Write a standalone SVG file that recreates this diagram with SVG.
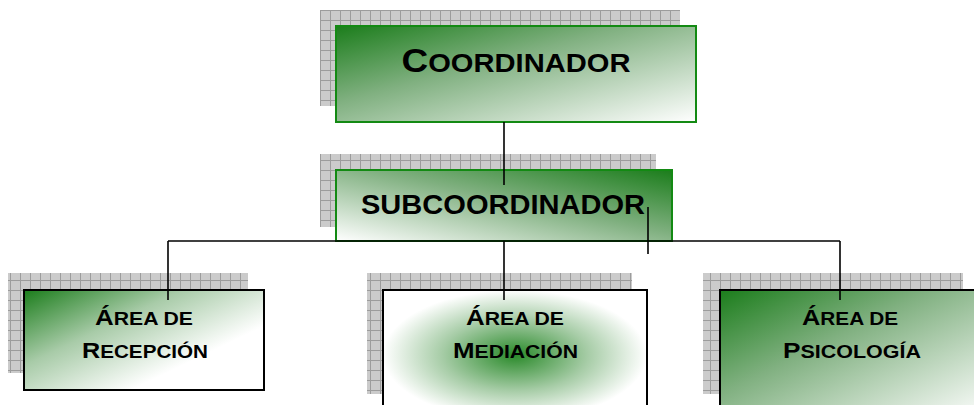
<svg xmlns="http://www.w3.org/2000/svg" width="974" height="405" viewBox="0 0 974 405">
<defs>
<pattern id="grid" patternUnits="userSpaceOnUse" width="10" height="10">
<rect width="10" height="10" fill="#cbcbcb"/>
<path d="M0 0.5H10M0.5 0V10" stroke="#9c9c9c" stroke-width="1" fill="none"/>
</pattern>
<linearGradient id="gTL" x1="0" y1="0" x2="1" y2="1">
<stop offset="0" stop-color="#1b7d1b"/>
<stop offset="0.4" stop-color="#80b080"/>
<stop offset="1" stop-color="#ffffff"/>
</linearGradient>
<linearGradient id="gTR" x1="1" y1="0" x2="0" y2="1">
<stop offset="0" stop-color="#1b7d1b"/>
<stop offset="0.45" stop-color="#80b080"/>
<stop offset="1" stop-color="#ffffff"/>
</linearGradient>
<linearGradient id="gLeft" x1="0" y1="0" x2="0.75" y2="0.65">
<stop offset="0" stop-color="#1b7d1b"/>
<stop offset="0.5" stop-color="#a8cba8"/>
<stop offset="1" stop-color="#ffffff"/>
</linearGradient>
<radialGradient id="gMid" cx="0.5" cy="0.5" r="0.5">
<stop offset="0" stop-color="#2a8a2a"/>
<stop offset="0.55" stop-color="#a6cca6"/>
<stop offset="1" stop-color="#ffffff"/>
</radialGradient>
<style>
.shadow{fill:url(#grid);}
.gbox{stroke:#138a13;stroke-width:2;}
.kbox{stroke:#000;stroke-width:2;}
.t{font-family:"Liberation Sans",Arial,sans-serif;font-weight:bold;fill:#000;text-anchor:middle;}
.conn{stroke:#000;stroke-width:1.6;fill:none;}
</style>
</defs>
<g id="coordinador">
<rect class="shadow" x="320" y="10" width="360" height="96"/>
<rect class="gbox" x="336" y="26" width="360" height="96" fill="url(#gTL)"/>
<text class="t" x="516" y="72" textLength="229" lengthAdjust="spacingAndGlyphs"><tspan font-size="33">C</tspan><tspan font-size="26">OORDINADOR</tspan></text>
</g>
<g id="subcoordinador">
<rect class="shadow" x="320" y="154" width="336" height="73"/>
<rect class="gbox" x="336" y="170" width="336" height="71" fill="url(#gTR)"/>
<text class="t" x="503" y="214" font-size="27.5" textLength="284" lengthAdjust="spacingAndGlyphs">SUBCOORDINADOR</text>
</g>
<g id="recepcion">
<rect class="shadow" x="8" y="273" width="240" height="100"/>
<rect class="kbox" x="24" y="290" width="240" height="100" fill="url(#gLeft)"/>
<text class="t" x="144" y="325" textLength="98" lengthAdjust="spacingAndGlyphs"><tspan font-size="22">Á</tspan><tspan font-size="18">REA DE</tspan></text>
<text class="t" x="145" y="358" textLength="126" lengthAdjust="spacingAndGlyphs"><tspan font-size="22">R</tspan><tspan font-size="18">ECEPCIÓN</tspan></text>
</g>
<g id="mediacion">
<rect class="shadow" x="367" y="273" width="265" height="121"/>
<rect class="kbox" x="383" y="290" width="264" height="130" fill="url(#gMid)"/>
<text class="t" x="515" y="325" textLength="98" lengthAdjust="spacingAndGlyphs"><tspan font-size="22">Á</tspan><tspan font-size="18">REA DE</tspan></text>
<text class="t" x="515.5" y="358" textLength="125" lengthAdjust="spacingAndGlyphs"><tspan font-size="22">M</tspan><tspan font-size="18">EDIACIÓN</tspan></text>
</g>
<g id="psicologia">
<rect class="shadow" x="703" y="273" width="260" height="121"/>
<rect class="kbox" x="720" y="290" width="262" height="130" fill="url(#gTL)"/>
<text class="t" x="850" y="325" textLength="96" lengthAdjust="spacingAndGlyphs"><tspan font-size="22">Á</tspan><tspan font-size="18">REA DE</tspan></text>
<text class="t" x="852" y="358" textLength="138" lengthAdjust="spacingAndGlyphs"><tspan font-size="22">P</tspan><tspan font-size="18">SICOLOGÍA</tspan></text>
</g>
<g id="connectors">
<path class="conn" d="M504 122V185"/>
<path class="conn" d="M168 241H840"/>
<path class="conn" d="M504 241V300"/>
<path class="conn" d="M168 241V300"/>
<path class="conn" d="M840 241V300"/>
<path class="conn" d="M648 207V254"/>
</g>
</svg>
